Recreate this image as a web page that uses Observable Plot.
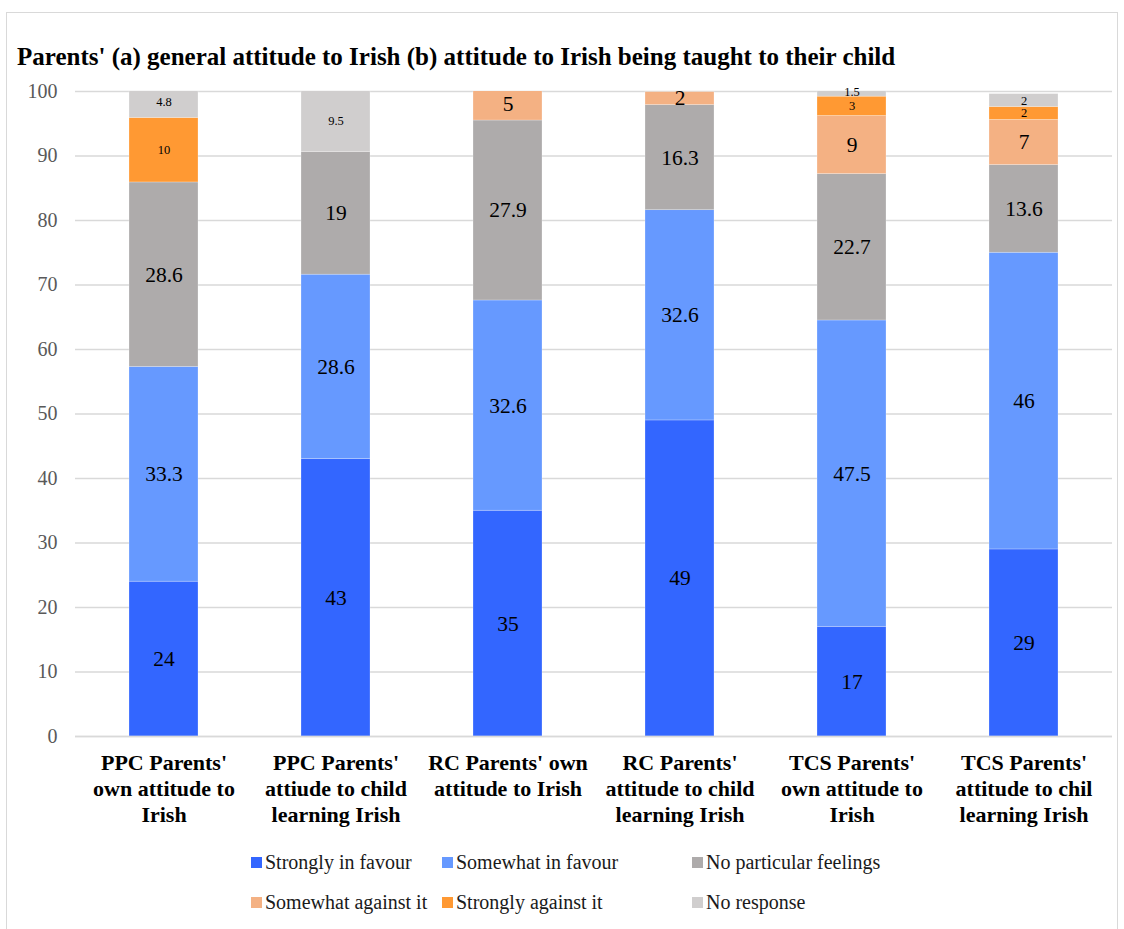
<!DOCTYPE html>
<html>
<head>
<meta charset="utf-8">
<script src="https://cdn.jsdelivr.net/npm/d3@7"></script>
<script src="https://cdn.jsdelivr.net/npm/@observablehq/plot@0.6"></script>
<style>
  html, body { margin: 0; padding: 0; background: #fff; }
  body { width: 1124px; height: 929px; position: relative; overflow: hidden; font-family: "Liberation Serif", "Times New Roman", Times, "DejaVu Serif", serif; }
  #frame { position: absolute; left: 6px; top: 12px; width: 1112px; height: 940px; border: 1px solid #d9d9d9; box-sizing: border-box; }
  #title { position: absolute; left: 17px; top: 43px; font-size: 25px; font-weight: bold; color: #000; white-space: nowrap; }
  #chart { position: absolute; left: 0; top: 80px; }
  .item { position: absolute; top: 0; font-size: 20px; color: #1a1a1a; white-space: nowrap; line-height: 24px; }
  .sw { position: absolute; left: 0; top: 7px; width: 11px; height: 11px; }
  .item span.t { position: absolute; left: 14px; top: 0; }
</style>
</head>
<body>
<div id="frame"></div>
<div id="title">Parents' (a) general attitude to Irish (b) attitude to Irish being taught to their child</div>
<div id="chart"></div>
<div id="legend"></div>
<script>
const categories = [
  "PPC Parents'\nown attitude to\nIrish",
  "PPC Parents'\nattiude to child\nlearning Irish",
  "RC Parents' own\nattitude to Irish",
  "RC Parents'\nattitude to child\nlearning Irish",
  "TCS Parents'\nown attitude to\nIrish",
  "TCS Parents'\nattitude to chil\nlearning Irish"
];
const seriesNames = ["Strongly in favour", "Somewhat in favour", "No particular feelings", "Somewhat against it", "Strongly against it", "No response"];
const stronglyInFavour  = [24, 43, 35, 49, 17, 29];
const somewhatInFavour  = [33.3, 28.6, 32.6, 32.6, 47.5, 46];
const noParticular      = [28.6, 19, 27.9, 16.3, 22.7, 13.6];
const somewhatAgainst   = [null, null, 5, 2, 9, 7];
const stronglyAgainst   = [10, null, null, null, 3, 2];
const noResponse        = [4.8, 9.5, null, null, 1.5, 2];
const seriesColors = ["#3366FF", "#6699FF", "#AEABAB", "#F4B183", "#FF9933", "#D0CECE"];
const yTicks = [0, 10, 20, 30, 40, 50, 60, 70, 80, 90, 100];

const seriesValues = [stronglyInFavour, somewhatInFavour, noParticular, somewhatAgainst, stronglyAgainst, noResponse];
const rows = [];
categories.forEach((c, i) => {
  seriesNames.forEach((s, j) => {
    const v = seriesValues[j][i];
    if (v != null) rows.push({category: c, series: s, value: v});
  });
});
const smallSeries = new Set(["Strongly against it", "No response"]);
const FONT = "'Liberation Serif', 'Times New Roman', Times, 'DejaVu Serif', serif";

const chart = Plot.plot({
  width: 1124,
  height: 756,
  marginLeft: 75,
  marginRight: 12,
  marginTop: 11,
  marginBottom: 100,
  style: {fontFamily: FONT, background: "transparent"},
  x: {domain: categories, paddingInner: 0.6, paddingOuter: 0.3, label: null},
  y: {domain: [0, 100], label: null},
  color: {domain: seriesNames, range: seriesColors},
  marks: [
    Plot.gridY(yTicks, {stroke: "#d9d9d9", strokeOpacity: 1, strokeWidth: 1.3}),
    Plot.barY(rows, {x: "category", y: "value", fill: "series", stroke: "#ffffff", strokeOpacity: 0.35, strokeWidth: 0.7, clip: true}),
    Plot.text(rows, Plot.stackY({x: "category", y: "value", z: "series", text: d => String(d.value),
      fontSize: d => smallSeries.has(d.series) ? 12.5 : 21.5, fill: "#000"})),
    Plot.axisY({ticks: yTicks, tickSize: 0, tickPadding: 18, fontSize: 20, fill: "#595959", label: null}),
    Plot.axisX({tickSize: 0, tickPadding: 15, fontSize: 22, fontWeight: "bold", fill: "#000", lineHeight: 1.18, label: null, lineAnchor: "top"}),
    Plot.ruleY([0], {stroke: "#d9d9d9", strokeWidth: 1.5})
  ]
});
document.getElementById("chart").appendChild(chart);

const legend = document.getElementById("legend");
const layout = [
  {row: 0, x: 251}, {row: 0, x: 442}, {row: 0, x: 692},
  {row: 1, x: 251}, {row: 1, x: 442}, {row: 1, x: 692}
];
const rowTops = [850, 890];
seriesNames.forEach((s, i) => {
  const it = document.createElement("div");
  it.className = "item";
  it.style.left = layout[i].x + "px";
  it.style.top = rowTops[layout[i].row] + "px";
  it.innerHTML = `<div class="sw" style="background:${seriesColors[i]}"></div><span class="t">${s}</span>`;
  legend.appendChild(it);
});
</script>
</body>
</html>
